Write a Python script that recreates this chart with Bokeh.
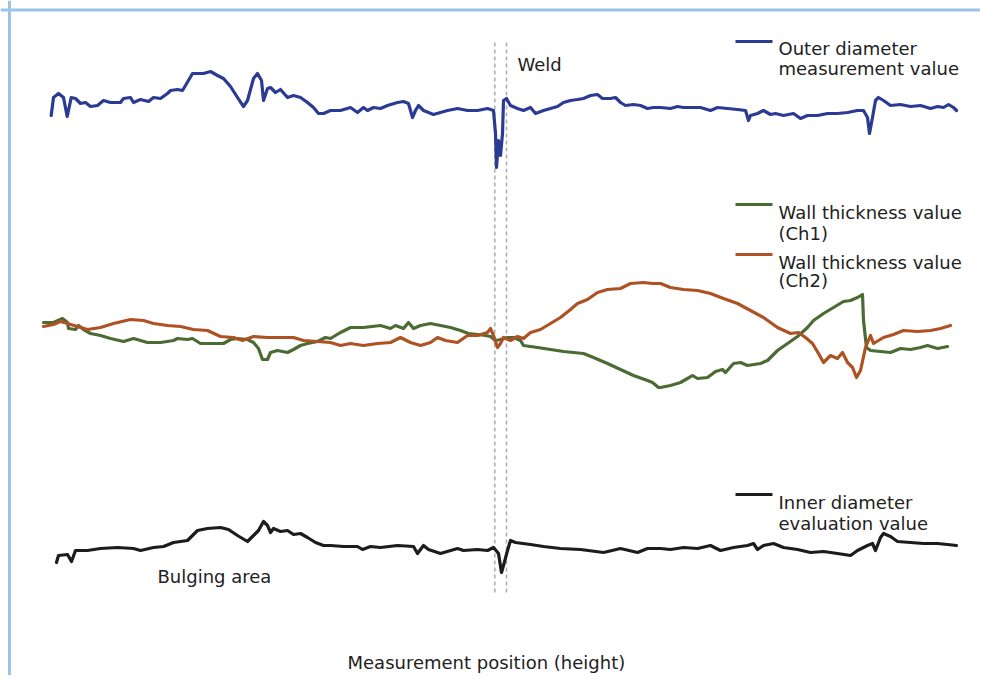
from bokeh.plotting import figure
from bokeh.models import Range1d, Span
from bokeh.core.properties import value
from bokeh.embed import file_html
from bokeh.resources import INLINE

# ---- data (measurement position, signal level) ----
od_pos = [50.7, 53, 58, 63, 66.7, 70.7, 75, 80, 85, 90, 97, 103, 110, 120, 123, 130, 133, 140, 148, 153, 160, 167, 170, 177, 182, 185, 192, 198, 203, 210, 217, 223, 230, 237, 243, 247, 253, 257, 261, 263, 267, 270, 275, 280, 287, 293, 300, 307, 313, 318, 323, 330,
          340, 350, 357, 363, 367, 373, 380, 387, 397, 403, 408, 412, 415, 418, 423, 433, 440, 447, 457, 467, 477, 487, 493, 495, 496, 498, 500, 502, 503, 506, 510, 517, 523, 530, 535, 543, 550, 557, 563, 570, 577, 583, 590, 597, 602, 610, 615, 620, 625, 633, 640, 647, 653,
          660, 670, 677, 683, 700, 710, 717, 727, 737, 745, 748, 750, 757, 763, 770, 775, 783, 793, 800, 807, 817, 827, 837, 847, 857, 863, 867, 869, 872, 875, 878, 883, 890, 900, 910, 920, 930, 937, 943, 948, 953, 956]
od_val = [564, 582, 586, 582, 563, 582, 581, 576, 577, 573, 574, 579, 577, 577, 581, 582, 577, 580, 578, 582, 581, 586, 589, 590, 589, 594, 606, 606, 606, 608, 604, 601, 593, 582, 573, 579, 601, 606, 599, 579, 591, 592, 587, 590, 582, 584, 582, 577, 572, 566, 566, 569,
          569, 572, 567, 572, 569, 572, 571, 574, 577, 578, 576, 562, 569, 574, 569, 565, 567, 569, 571, 569, 569, 571, 569, 546, 512, 539, 524, 546, 579, 581, 574, 571, 569, 572, 566, 569, 571, 573, 577, 579, 580, 581, 584, 585, 581, 581, 582, 577, 574, 575, 574, 571, 572,
          572, 571, 573, 572, 572, 569, 572, 571, 570, 569, 559, 564, 566, 569, 565, 566, 564, 566, 561, 564, 564, 566, 566, 567, 569, 569, 562, 546, 562, 579, 582, 579, 574, 575, 573, 574, 571, 573, 572, 575, 572, 569]

ch1_pos = [43, 53, 62, 67, 68, 75, 78, 83, 90, 100, 110, 123, 133, 147, 160, 173, 177, 187, 192, 200, 213, 223, 230, 237, 247, 253, 258, 262, 267, 270, 277, 287, 293, 300, 307, 317, 325, 330,
           340, 350, 363, 380, 390, 395, 403, 408, 413, 420, 430, 440, 450, 460, 468, 477, 485, 490, 495, 500, 507, 513, 520, 523, 537, 550, 563, 583, 593, 607, 620, 633, 647, 652, 658,
           660, 670, 680, 687, 692, 697, 707, 715, 722, 725, 733, 740, 747, 760, 767, 777, 787, 797, 807, 813, 823, 833, 843, 850, 857, 862, 863, 866, 870, 880, 890, 900, 910, 920, 927, 937, 947]
ch1_val = [357, 357, 361, 357, 351, 350, 354, 350, 346, 344, 341, 338, 341, 337, 337, 339, 341, 340, 341, 336, 336, 336, 340, 341, 340, 337, 331, 320, 320, 327, 329, 327, 330, 334, 336, 338, 342, 341,
           347, 352, 352, 354, 351, 354, 351, 357, 351, 354, 356, 354, 352, 349, 346, 345, 344, 343, 339, 340, 342, 342, 339, 334, 332, 330, 328, 326, 322, 316, 310, 304, 299, 297, 292,
           292, 294, 297, 301, 304, 301, 302, 308, 310, 307, 316, 317, 314, 316, 319, 329, 336, 343, 352, 359, 366, 372, 378, 379, 382, 385, 359, 332, 329, 328, 327, 331, 330, 332, 334, 331, 333]

ch2_pos = [43, 53, 60, 67, 77, 87, 100, 113, 130, 143, 153, 167, 180, 193, 207, 220, 233, 242, 253, 267, 280, 293, 303, 317, 330,
           340, 350, 363, 377, 390, 400, 410, 420, 430, 437, 445, 457, 467, 477, 487, 490, 493, 497, 500, 503, 510, 517, 523, 530, 540, 550, 560, 570, 577, 587, 597, 607, 620, 630, 643, 652,
           660, 670, 683, 697, 710, 723, 737, 750, 763, 777, 790, 798, 805, 812, 818, 823, 830, 837, 842, 847, 852, 856, 860, 865, 870, 873, 883, 893, 903, 917, 930, 940, 950]
ch2_val = [353, 355, 358, 356, 353, 350, 352, 356, 360, 359, 356, 354, 353, 350, 349, 343, 342, 339, 343, 342, 342, 342, 339, 338, 337,
           334, 336, 334, 336, 337, 342, 337, 334, 337, 342, 339, 337, 344, 344, 347, 351, 344, 332, 336, 342, 339, 343, 341, 347, 350, 356, 362, 370, 376, 380, 387, 390, 391, 396, 397, 396,
           396, 392, 390, 389, 386, 381, 376, 369, 362, 352, 346, 347, 342, 336, 326, 317, 324, 321, 327, 317, 312, 302, 309, 332, 344, 336, 342, 345, 349, 348, 349, 351, 354]

id_pos = [56, 58, 67, 71, 75, 87, 100, 117, 133, 140, 153, 163, 173, 187, 197, 207, 220, 228, 237, 247, 253, 258, 263, 267, 270, 273, 280, 287, 293, 300, 307, 315, 323, 330,
          343, 357, 362, 370, 380, 397, 413, 417, 423, 428, 440, 457, 463, 477, 487, 493, 498, 501, 503, 507, 510, 515, 530, 543, 560, 580, 603, 620, 637, 647,
          660, 670, 683, 697, 710, 720, 733, 747, 753, 757, 763, 773, 783, 797, 810, 823, 837, 850, 857, 867, 872, 875, 880, 883, 890, 897, 910, 923, 937, 947, 956]
id_val = [117, 124, 125, 118, 129, 129, 131, 132, 131, 129, 132, 133, 137, 139, 149, 151, 152, 150, 144, 138, 144, 149, 158, 154, 147, 151, 148, 149, 145, 146, 142, 137, 134, 134,
          133, 133, 130, 133, 132, 134, 133, 126, 134, 130, 126, 131, 129, 130, 129, 132, 126, 107, 114, 129, 139, 137, 135, 133, 131, 130, 127, 131, 127, 131,
          131, 130, 132, 131, 134, 129, 132, 134, 136, 130, 134, 136, 132, 130, 127, 128, 126, 124, 129, 134, 136, 129, 142, 146, 143, 138, 137, 136, 136, 135, 134]

weld_bounds = [494.3, 506]

series_labels = [["Outer diameter", "measurement value"],
                 ["Wall thickness value", "(Ch1)"],
                 ["Wall thickness value", "(Ch2)"],
                 ["Inner diameter", "evaluation value"]]

# ---- styles ----
C_OD = "#2B3A92"
C_CH1 = "#4A6B34"
C_CH2 = "#AE5224"
C_ID = "#1C1C1C"
TXT = "#222222"
FONT = value("DejaVu Sans")
FS = "18px"

W, H = 980, 675
p = figure(width=W, height=H, x_range=Range1d(0, W), y_range=Range1d(679 - H, 679),
           output_backend="svg", toolbar_location=None,
           x_axis_type=None, y_axis_type=None,
           min_border=0, min_border_left=0, min_border_right=0,
           min_border_top=0, min_border_bottom=0,
           outline_line_color=None, background_fill_color="white",
           border_fill_color="white")
p.xgrid.visible = False
p.ygrid.visible = False

# frame (top and left light-blue rule)
p.add_layout(Span(location=669.5, dimension="width", line_color="#9DC3E6", line_width=3))
p.add_layout(Span(location=9, dimension="height", line_color="#9DC3E6", line_width=3))

# weld markers
p.segment(x0=weld_bounds, y0=[637, 637], x1=weld_bounds, y1=[86, 86],
          line_color="#ABABAB", line_width=1.5, line_dash="4 3")

# traces
for xs, ys, c in [(od_pos, od_val, C_OD), (ch1_pos, ch1_val, C_CH1),
                  (ch2_pos, ch2_val, C_CH2), (id_pos, id_val, C_ID)]:
    p.line(xs, ys, line_color=c, line_width=3.2, line_join="round", line_cap="round")

# legend-like labels
leg_line_y = [638, 475, 425, 185]
leg_text_y = [(631, 611), (467, 446), (417, 399), (177, 156)]
leg_colors = [C_OD, C_CH1, C_CH2, C_ID]
p.segment(x0=[735] * 4, y0=leg_line_y, x1=[772] * 4, y1=leg_line_y,
          line_color=leg_colors, line_width=3)
tx, ty, tt = [], [], []
for lab, (y1, y2) in zip(series_labels, leg_text_y):
    tx += [778, 778]
    ty += [y1, y2]
    tt += lab
p.text(x=tx, y=ty, text=tt, text_font=FONT, text_font_size=FS, text_color=TXT,
       text_baseline="alphabetic", text_align="left")

# annotations
p.text(x=[517, 157, 347], y=[615, 103, 17],
       text=["Weld", "Bulging area", "Measurement position (height)"],
       text_font=FONT, text_font_size=FS, text_color=TXT,
       text_baseline="alphabetic", text_align="left")

open("out.html", "w").write(file_html(p, INLINE))
